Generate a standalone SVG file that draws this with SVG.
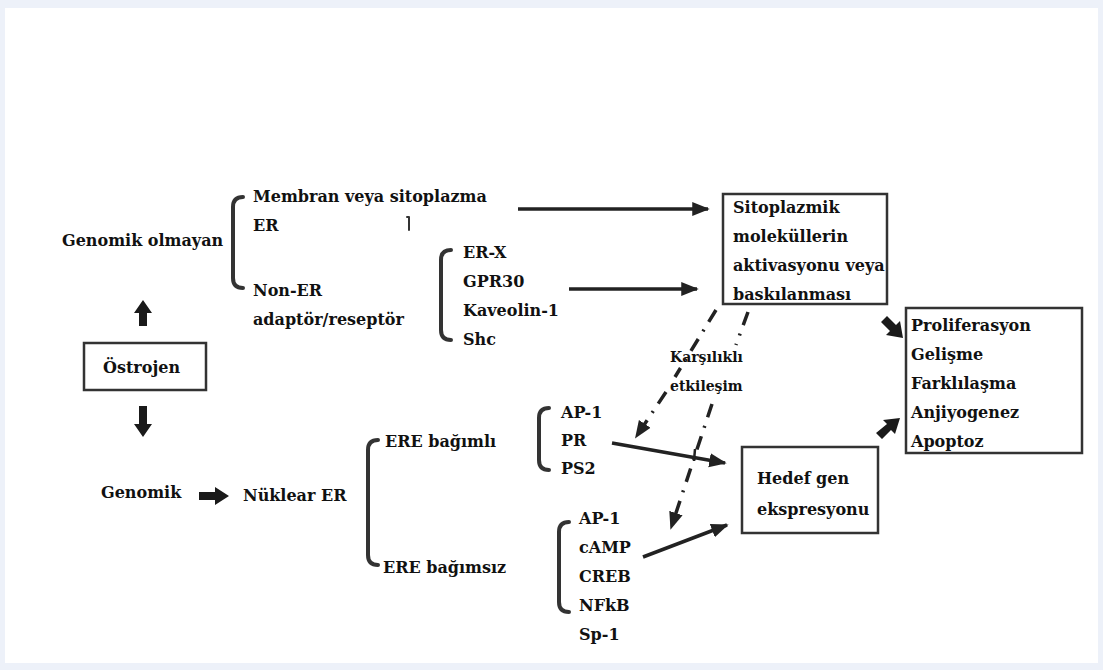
<svg xmlns="http://www.w3.org/2000/svg" width="1103" height="670" viewBox="0 0 1103 670">
<defs>
<style>
text{font-family:"DejaVu Serif","Liberation Serif",serif;font-weight:bold;font-size:16px;fill:#111}
.sm{font-size:14px}
.box{fill:#fff;stroke:#333;stroke-width:2.5}
.br{fill:none;stroke:#333;stroke-width:4;stroke-linecap:round;stroke-linejoin:round}
.ln{fill:none;stroke:#222;stroke-width:3.5}
.dd{fill:none;stroke:#222;stroke-width:3.5;stroke-dasharray:14 9 2 9}
.blk{fill:#1a1a1a}
</style>
<marker id="ah" viewBox="0 0 10 10" refX="9" refY="5" markerWidth="5" markerHeight="5" orient="auto" markerUnits="strokeWidth">
<path d="M0,1 L10,5 L0,9 Z" fill="#222"/>
</marker>
</defs>
<rect x="0" y="0" width="1103" height="670" fill="#edf1f9"/>
<rect x="5" y="8" width="1093" height="655" fill="#fff"/>

<g id="estrogen">
<rect class="box" x="84" y="343" width="122" height="47"/>
<text x="103" y="373">Östrojen</text>
</g>
<g id="nongenomic"><text x="62" y="246">Genomik olmayan</text></g>
<g id="membrane">
<text x="253" y="202">Membran veya sitoplazma</text>
<text x="253" y="231">ER</text>
<path class="br" d="M407,217 L409,217 L409,230" style="stroke-width:2"/>
</g>
<g id="nonER">
<text x="253" y="296">Non-ER</text>
<text x="253" y="325">adaptör/reseptör</text>
</g>
<g id="receptors">
<text x="463" y="258">ER-X</text>
<text x="463" y="287">GPR30</text>
<text x="463" y="316">Kaveolin-1</text>
<text x="463" y="345">Shc</text>
</g>
<g id="cyto">
<rect class="box" x="723" y="194" width="164" height="110"/>
<text x="733" y="213">Sitoplazmik</text>
<text x="733" y="242">moleküllerin</text>
<text x="733" y="271">aktivasyonu veya</text>
<text x="733" y="300">baskılanması</text>
</g>
<g id="outcomes">
<rect class="box" x="906" y="308" width="176" height="145"/>
<text x="911" y="331">Proliferasyon</text>
<text x="911" y="360">Gelişme</text>
<text x="911" y="389">Farklılaşma</text>
<text x="911" y="418">Anjiyogenez</text>
<text x="911" y="447">Apoptoz</text>
</g>
<g id="genomic"><text x="101" y="498">Genomik</text></g>
<g id="nuclear"><text x="243" y="501">Nüklear ER</text></g>
<g id="eredep"><text x="385" y="447">ERE bağımlı</text></g>
<g id="ereindep"><text x="383" y="573">ERE bağımsız</text></g>
<g id="depgenes">
<text x="561" y="418">AP-1</text>
<text x="561" y="446">PR</text>
<text x="561" y="474">PS2</text>
</g>
<g id="indepgenes">
<text x="579" y="524">AP-1</text>
<text x="579" y="553">cAMP</text>
<text x="579" y="582">CREB</text>
<text x="579" y="611">NFkB</text>
<text x="579" y="640">Sp-1</text>
</g>
<g id="target">
<rect class="box" x="742" y="447" width="136" height="86"/>
<text x="757" y="484">Hedef gen</text>
<text x="757" y="515">ekspresyonu</text>
</g>
<g id="crosstalk">
<text class="sm" x="670" y="362">Karşılıklı</text>
<text class="sm" x="670" y="391">etkileşim</text>
</g>

<g id="connectors">
<path class="br" d="M243,197 Q233,197 233,207 L233,278 Q233,288 243,288"/>
<path class="br" d="M451,250 Q441,250 441,260 L441,330 Q441,340 451,340"/>
<path class="br" d="M378,440 Q368,440 368,450 L368,555 Q368,565 378,565"/>
<path class="br" d="M549,408 Q539,408 539,418 L539,460 Q539,470 549,470"/>
<path class="br" d="M569,522 Q559,522 559,532 L559,602 Q559,612 569,612"/>
<path class="ln" d="M518,209 L708,209" marker-end="url(#ah)"/>
<path class="ln" d="M569,289 L697,289" marker-end="url(#ah)"/>
<path class="ln" d="M612,443 L725,463" marker-end="url(#ah)"/>
<path class="ln" d="M643,557 L727,525" marker-end="url(#ah)"/>
<path class="ln" d="M695,449 L694,461" style="stroke-width:2.5"/>
<path class="dd" d="M716,310 L675,377"/>
<path class="dd" d="M666,392 L636,437" marker-end="url(#ah)"/>
<path class="dd" d="M748,312 L736,345"/>
<path class="dd" d="M712,404 L671,528" marker-end="url(#ah)"/>
<polygon class="blk" points="139,326 147,326 147,313 152,313 143,300 134,313 139,313"/>
<polygon class="blk" points="139,406 147,406 147,424 152,424 143,437 134,424 139,424"/>
<polygon class="blk" points="199,492 215,492 215,487 229,496 215,505 215,500 199,500"/>
<polygon class="blk" points="881,322 887,316 896,325 900,321 903,338 886,335 890,331"/>
<polygon class="blk" points="876,433 882,439 891,430 895,434 900,418 883,420 887,424"/>
</g>
</svg>
